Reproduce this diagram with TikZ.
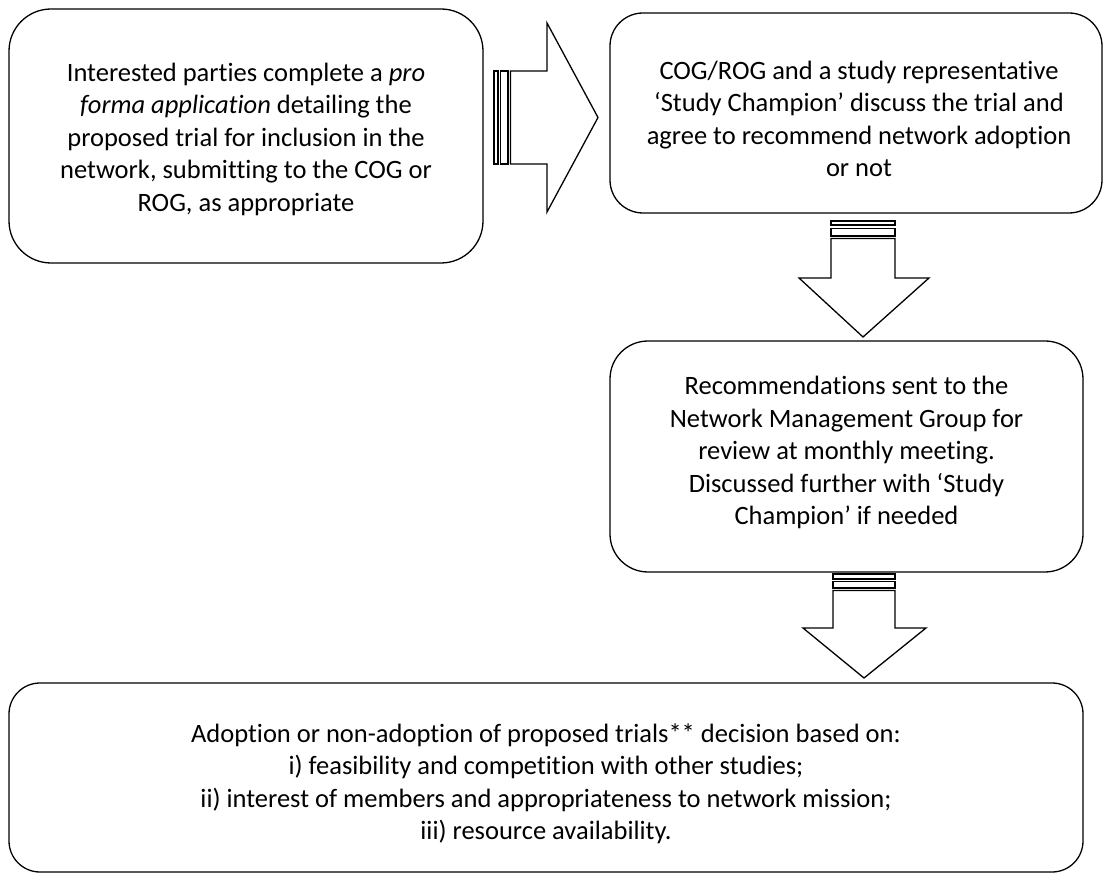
\documentclass[tikz,border=0pt]{standalone}
\usepackage{fontspec}
\setmainfont{Carlito}[Ligatures=NoCommon]
\begin{document}
\begin{tikzpicture}[x=1pt,y=-1pt,
  box/.style={draw=black, line width=1.3pt, fill=white, inner sep=0pt},
  txt/.style={align=center, font=\fontsize{26.5}{32.5}\selectfont, inner sep=0pt},
  blk/.style={draw=black, line width=1.3pt, fill=white, line join=miter}]
\useasboundingbox (0,0) rectangle (1104,874);
% boxes
\node[box, rounded corners=42pt, minimum width=474pt, minimum height=254pt] (b1) at (246,136) {};
\node[box, rounded corners=33pt, minimum width=492pt, minimum height=200pt] (b2) at (856,113) {};
\node[box, rounded corners=38pt, minimum width=473pt, minimum height=231pt] (b3) at (846.5,456.5) {};
\node[box, rounded corners=31pt, minimum width=1074pt, minimum height=189pt] (b4) at (546,777.5) {};
% texts
\node[txt] (t1) at ([yshift=-3pt]b1.center) {Interested parties complete a \textit{pro}\\ \textit{forma application} detailing the\\ proposed trial for inclusion in the\\ network, submitting to the COG or\\ ROG, as appropriate};
\node[txt] (t2) at ([xshift=3pt,yshift=-6pt]b2.center) {COG/ROG and a study representative\\ ‘Study Champion’ discuss the trial and\\ agree to recommend network adoption\\ or not};
\node[txt] (t3) at ([yshift=4pt]b3.center) {Recommendations sent to the\\ Network Management Group for\\ review at monthly meeting.\\ Discussed further with ‘Study\\ Champion’ if needed};
\node[txt] (t4) at ([yshift=-6pt]b4.center) {Adoption or non-adoption of proposed trials** decision based on:\\ i) feasibility and competition with other studies;\\ ii) interest of members and appropriateness to network mission;\\ iii) resource availability.};
% right block arrow b1 -> b2
\draw[blk] (494,71) rectangle (498,164);
\draw[blk] (500.5,71) rectangle (508,164);
\draw[blk] (510.5,71) -- (547,71) -- (547,23) -- (598,117.5) -- (547,212) -- (547,164) -- (510.5,164) -- cycle;
% down block arrow b2 -> b3
\draw[blk] (831,221) rectangle (895,225);
\draw[blk] (831,228.5) rectangle (895,236);
\draw[blk] (831,238.5) -- (831,278) -- (799,278) -- (863,337) -- (929,278) -- (895,278) -- (895,238.5) -- cycle;
% down block arrow b3 -> b4
\draw[blk] (833,574) rectangle (895,579);
\draw[blk] (833,581.5) rectangle (895,588);
\draw[blk] (833,590.5) -- (833,628) -- (803,628) -- (864,678) -- (926,628) -- (895,628) -- (895,590.5) -- cycle;
\end{tikzpicture}
\end{document}
